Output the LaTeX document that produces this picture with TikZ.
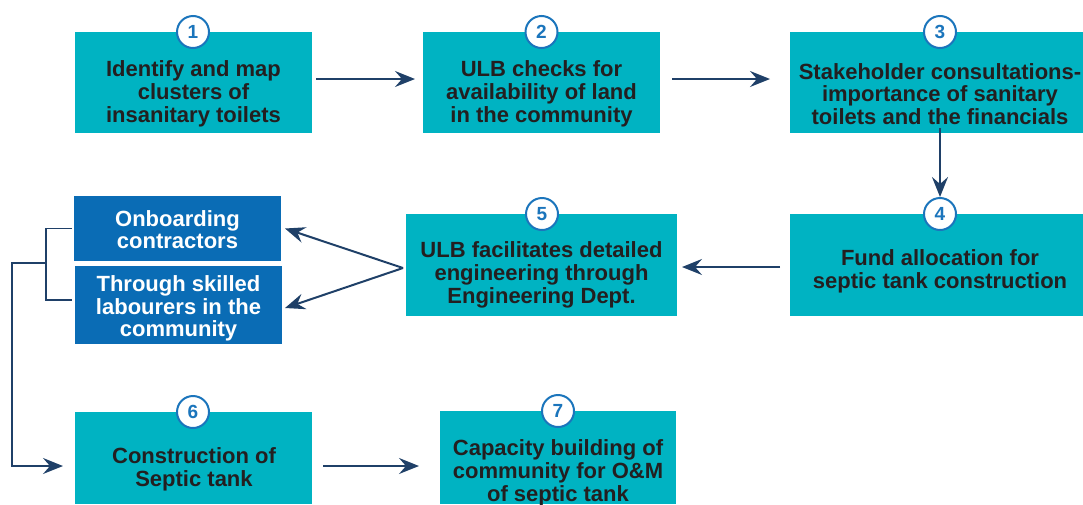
\documentclass[tikz,border=0pt]{standalone}
\usepackage{fontspec}
\setmainfont{Liberation Sans}
\usetikzlibrary{arrows.meta}
\definecolor{teal}{RGB}{0,179,194}
\definecolor{dblue}{RGB}{10,108,181}
\definecolor{arrc}{RGB}{31,64,104}
\definecolor{txtc}{RGB}{35,31,32}
\definecolor{numc}{RGB}{27,117,188}
\tikzset{
  box/.style={fill=teal, draw=none, inner sep=0pt, outer sep=0pt},
  sbox/.style={fill=dblue, draw=none, inner sep=0pt, outer sep=0pt},
  txt/.style={font=\fontsize{22}{22.7}\selectfont\bfseries, text=txtc, align=center, inner sep=0pt},
  wtxt/.style={txt, text=white},
  num/.style={circle, draw=numc, line width=2pt, fill=white, minimum size=32pt, inner sep=0pt,
    font=\fontsize{19}{19}\selectfont\bfseries, text=numc},
  arr/.style={draw=arrc, line width=2pt, -{Stealth[length=20pt, width=16pt, inset=7pt]}},
  brk/.style={draw=arrc, line width=1.8pt},
}
\begin{document}
\begin{tikzpicture}[x=1pt, y=-1pt]
\useasboundingbox (0,0) rectangle (1083,504);
% boxes
\node[box, minimum width=237, minimum height=101] (b1) at (193.5,82.5) {};
\node[box, minimum width=237, minimum height=101] (b2) at (541.5,82.5) {};
\node[box, minimum width=293, minimum height=101] (b3) at (936.5,82.5) {};
\node[box, minimum width=293, minimum height=102] (b4) at (936.5,265) {};
\node[box, minimum width=271, minimum height=102] (b5) at (541.5,265) {};
\node[sbox, minimum width=207, minimum height=65] (bA) at (177.5,228.5) {};
\node[sbox, minimum width=207, minimum height=78] (bB) at (178.5,305) {};
\node[box, minimum width=237, minimum height=92] (b6) at (193.5,458) {};
\node[box, minimum width=236, minimum height=93] (b7) at (558,457.5) {};
% texts
\node[txt] (t1) at (193.5,94) {Identify and map\\clusters of\\insanitary toilets};
\node[txt] (t2) at (541.5,94) {ULB checks for\\availability of land\\in the community};
\node[txt] (t3) at (940,94) {Stakeholder consultations-\\importance of sanitary\\toilets and the financials};
\node[txt] (t4) at (940,271.5) {Fund allocation for\\septic tank construction};
\node[txt] (t5) at (541.5,275) {ULB facilitates detailed\\engineering through\\Engineering Dept.};
\node[wtxt] (tA) at (177.5,229.5) {Onboarding\\contractors};
\node[wtxt] (tB) at (178.5,308.5) {Through skilled\\labourers in the\\community};
\node[txt] (t6) at (194,469) {Construction of\\Septic tank};
\node[txt] (t7) at (558,473) {Capacity building of\\community for O\&M\\of septic tank};
% numbers
\node[num] (n1) at (193,32) {1};
\node[num] (n2) at (541.5,32) {2};
\node[num] (n3) at (940,32) {3};
\node[num] (n4) at (940,214) {4};
\node[num] (n5) at (542,214) {5};
\node[num] (n6) at (193,412) {6};
\node[num] (n7) at (558,411) {7};
% arrows
\draw[arr] ([shift={(4,-3.5)}]b1.east) -- ([shift={(-8,-3.5)}]b2.west);
\draw[arr] ([shift={(12,-3.5)}]b2.east) -- ([shift={(-20,-3.5)}]b3.west);
\path (b3.south -| n4.north) coordinate (a34);
\draw[arr] ([yshift=5]a34) -- (n4.north);
\draw[arr] ([shift={(-10,2)}]b4.west) -- ([shift={(5,2)}]b5.east);
\draw[arr] ([shift={(-3,3)}]b5.west) -- ([xshift=4]bA.east);
\draw[arr] ([shift={(-3,3)}]b5.west) -- ([shift={(3,3)}]bB.east);
% bracket
\coordinate (bk) at (46,263);
\draw[brk] ([xshift=-2]bA.west) -- (46,228.5) -- (46,300) -- ([shift={(-3,-5)}]bB.west);
\draw[arr, line width=1.8pt] (bk) -- (12,263) |- ([shift={(-12,8)}]b6.west);
\draw[arr] ([shift={(11,8)}]b6.east) -- ([shift={(-21,8.5)}]b7.west);
\end{tikzpicture}
\end{document}
